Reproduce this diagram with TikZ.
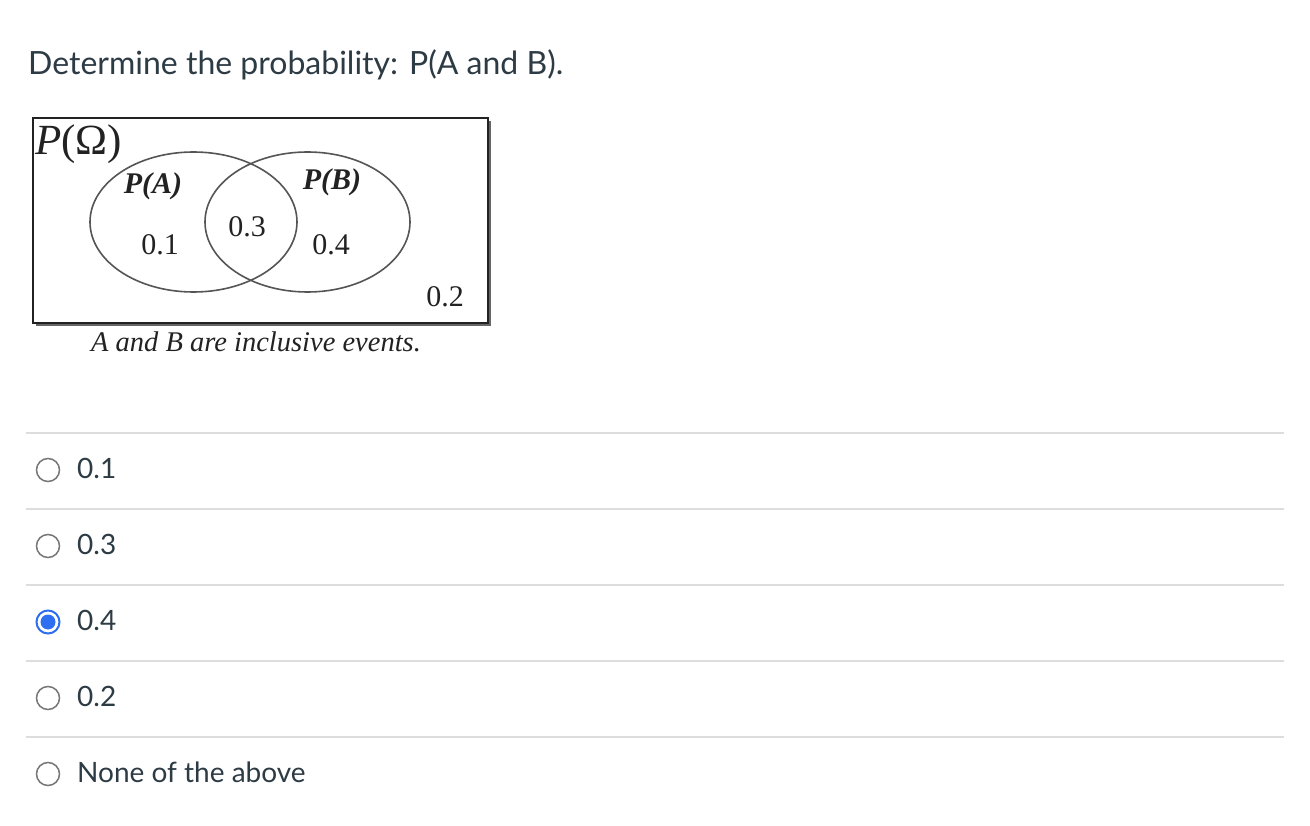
\documentclass[tikz,border=0pt]{standalone}
\usepackage{fontspec}
\setmainfont{Lato}
\newfontfamily\serifp{Liberation Serif}
\definecolor{ink}{HTML}{2D3B45}
\definecolor{rule}{HTML}{DDDDDD}
\definecolor{radio}{HTML}{777777}
\definecolor{sel}{HTML}{2D6FF0}
\definecolor{venn}{HTML}{222222}
\definecolor{vline}{HTML}{555555}
\begin{document}
\begin{tikzpicture}[x=1pt,y=-1pt,
  opt/.style={anchor=west,text=ink,font=\fontsize{28}{32}\selectfont,inner sep=0pt},
  radiobtn/.style={circle,draw=radio,line width=1.5pt,minimum size=23pt,inner sep=0pt},
  sep/.style={draw=rule,line width=1.5pt},
  vlab/.style={text=venn,font=\serifp\fontsize{30}{33}\selectfont,inner sep=0pt},
  vset/.style={draw=vline,line width=1.6pt}]
\useasboundingbox (0,0) rectangle (1310,826);
\fill[white] (0,0) rectangle (1310,826);
% title
\node[anchor=base west,text=ink,font=\fontsize{32}{38}\selectfont,inner sep=0pt] (title) at (28,75) {Determine the probability: P(A and B).};
% Venn box
\fill[gray!80!black] (36,121) rectangle (491,326);
\node[draw=venn,line width=1.8pt,fill=white,minimum width=455pt,minimum height=205pt,inner sep=0pt,anchor=north west] (box) at (32,117) {};
\draw[vset] (193.5,222) ellipse [x radius=103.5, y radius=70];
\draw[vset] (307.5,222) ellipse [x radius=102.5, y radius=70];
\node[vlab,font=\serifp\fontsize{43}{46}\selectfont,anchor=base west] (omega) at (35,155) {\textit{P}(Ω)};
\node[vlab,font=\serifp\bfseries\itshape\fontsize{30}{33}\selectfont] (pa) at (153,186) {P(A)};
\node[vlab,font=\serifp\bfseries\itshape\fontsize{30}{33}\selectfont] (pb) at (332,182) {P(B)};
\node[vlab] (ab) at (247,227) {0.3};
\node[vlab] (a) at (160,245) {0.1};
\node[vlab] (b) at (331,245) {0.4};
\node[vlab] (out) at (445,297) {0.2};
\node[vlab,font=\serifp\itshape\fontsize{28.5}{31}\selectfont] (cap) at (256,342) {A and B are inclusive events.};
% separators
\foreach \yy in {433,509,585,661,737} \draw[sep] (26,\yy) -- (1284,\yy);
% options
\node[radiobtn] (r1) at (48,470) {};
\node[radiobtn] (r2) at (48,546) {};
\node[radiobtn,draw=sel,line width=2pt] (r3) at (48,622) {};
\fill[sel] (r3.center) circle (7.5);
\node[radiobtn] (r4) at (48,698) {};
\node[radiobtn] (r5) at (48,774) {};
\node[opt] (t1) at (77,468) {0.1};
\node[opt] (t2) at (77,544) {0.3};
\node[opt] (t3) at (77,620) {0.4};
\node[opt] (t4) at (77,696) {0.2};
\node[opt] (t5) at (77,772) {None of the above};
\end{tikzpicture}
\end{document}
